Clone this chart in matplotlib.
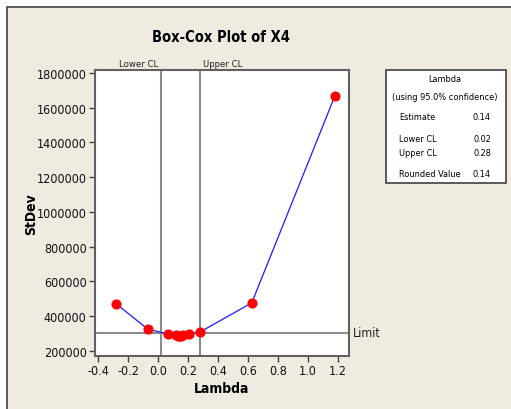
"""Box-Cox plot of X4 (Minitab style): StDev vs Lambda with confidence limits."""

import matplotlib
matplotlib.use("Agg")
import matplotlib.pyplot as plt
from matplotlib.patches import Rectangle

LAMBDAS = [-0.28, -0.07, 0.065, 0.12, 0.13, 0.14, 0.15, 0.165, 0.205, 0.28, 0.625, 1.18]
STDEVS = [472000, 327000, 297000, 290000, 288000, 287000, 288000, 290000, 298000, 309000, 477000, 1670000]
LOWER_CL = 0.02
UPPER_CL = 0.28
LIMIT = 305000
X_TICKS = [-0.4, -0.2, 0.0, 0.2, 0.4, 0.6, 0.8, 1.0, 1.2]
Y_TICKS = [200000, 400000, 600000, 800000, 1000000, 1200000, 1400000, 1600000, 1800000]
LEGEND_ROWS = [("Estimate", "0.14"), ("Lower CL", "0.02"), ("Upper CL", "0.28"), ("Rounded Value", "0.14")]

BG = "#efebe1"

plt.rcParams["font.family"] = ["DejaVu Sans"]
plt.rcParams["font.stretch"] = "condensed"

W, H = 511, 410
fig = plt.figure(figsize=(W / 100, H / 100), dpi=100)
fig.patch.set_facecolor("white")

# beige panel with dark frame on top/left
fig.add_artist(Rectangle((7 / W, -0.01), 1, 1.01 - 8 / H, transform=fig.transFigure,
                         facecolor=BG, edgecolor="#404040", linewidth=1.2, zorder=-10))

ax = fig.add_axes([95 / W, 1 - 357 / H, (349 - 95) / W, (357 - 71) / H])
ax.set_facecolor("white")
ax.plot(LAMBDAS, STDEVS, color="#1a1aff", linewidth=0.9, zorder=3)
ax.plot(LAMBDAS, STDEVS, "o", color="#ff0000", markersize=6.3, zorder=4)
ax.axvline(LOWER_CL, color="#8c8c8c", linewidth=1.5, zorder=2)
ax.axvline(UPPER_CL, color="#8c8c8c", linewidth=1.5, zorder=2)
ax.axhline(LIMIT, color="#8c8c8c", linewidth=1.5, zorder=2)

ax.set_xlim(-0.42, 1.273)
ax.set_ylim(171000, 1817000)
ax.set_xticks(X_TICKS)
ax.set_xticklabels([f"{v:.1f}" for v in X_TICKS])
ax.set_yticks(Y_TICKS)
ax.set_yticklabels([str(v) for v in Y_TICKS])
ax.tick_params(direction="out", length=4, width=1, color="#404040", labelsize=9,
               labelcolor="#111111", pad=2)
for s in ax.spines.values():
    s.set_color("#606060")
    s.set_linewidth(1.5)

ax.text(LOWER_CL - 0.02, 1.008, "Lower CL", transform=ax.get_xaxis_transform(),
        ha="right", va="bottom", fontsize=6.8, color="#222222")
ax.text(UPPER_CL + 0.02, 1.008, "Upper CL", transform=ax.get_xaxis_transform(),
        ha="left", va="bottom", fontsize=6.8, color="#222222")
ax.text(1.015, LIMIT, "Limit", transform=ax.get_yaxis_transform(),
        ha="left", va="center", fontsize=9, color="#222222")

ax.set_xlabel("Lambda", fontsize=10, fontweight="bold", labelpad=3)
ax.set_ylabel("StDev", fontsize=10, fontweight="bold", labelpad=-1)
fig.text(221 / W, 1 - 37 / H, "Box-Cox Plot of X4", ha="center", va="center",
         fontsize=10.5, fontweight="bold")

# legend box
fig.add_artist(Rectangle((386 / W, 1 - 184 / H), 120 / W, 113 / H, transform=fig.transFigure,
                         facecolor="white", edgecolor="#404040", linewidth=1.2))
fig.text(445 / W, 1 - 80 / H, "Lambda", ha="center", va="center", fontsize=6.6)
fig.text(445 / W, 1 - 98 / H, "(using 95.0% confidence)", ha="center", va="center", fontsize=6.6)
for (name, val), yy in zip(LEGEND_ROWS, [117, 139, 153, 175]):
    fig.text(399 / W, 1 - yy / H, name, ha="left", va="center", fontsize=6.6)
    fig.text(491 / W, 1 - yy / H, val, ha="right", va="center", fontsize=6.6)

fig.savefig("out.png", dpi=100)
